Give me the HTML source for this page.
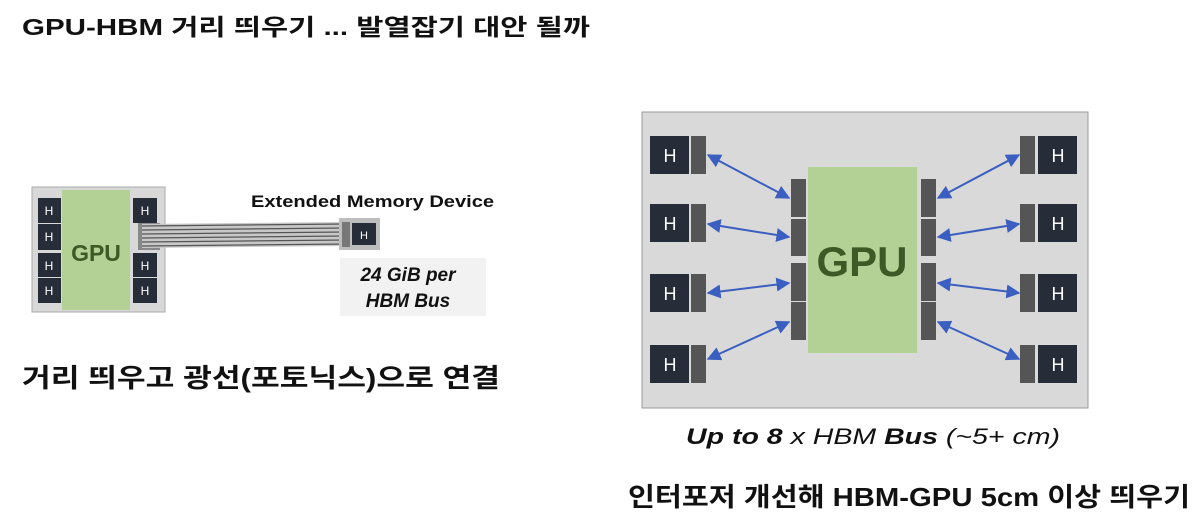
<!DOCTYPE html>
<html><head><meta charset="utf-8"><style>
html,body{margin:0;padding:0;background:#fff;width:1200px;height:530px;overflow:hidden}
text{font-family:"Liberation Sans","Noto Sans CJK KR",sans-serif}
</style></head><body>
<svg width="1200" height="530" viewBox="0 0 1200 530" xmlns="http://www.w3.org/2000/svg">
<defs>
<marker id="a" viewBox="0 0 10 10" refX="9" refY="5" markerWidth="7" markerHeight="7" orient="auto-start-reverse"><path d="M0,0L10,5L0,10z" fill="#3a5fc0"/></marker>
</defs>
<text x="22" y="35" font-size="23" font-weight="bold" fill="#111" textLength="568" lengthAdjust="spacingAndGlyphs">GPU-HBM 거리 띄우기 ... 발열잡기 대안 될까</text>

<!-- left diagram -->
<rect x="32" y="187" width="133" height="125" fill="#d8d8d8" stroke="#aaa"/>
<rect x="62" y="190" width="68" height="120" fill="#b3d095"/>
<text x="96" y="261" font-size="23" font-weight="bold" fill="#3d5a26" text-anchor="middle">GPU</text>
<g fill="#262d38">
<rect x="38" y="198" width="23" height="25"/><rect x="38" y="224" width="23" height="26"/>
<rect x="38" y="253" width="23" height="24"/><rect x="38" y="278" width="23" height="25"/>
<rect x="133" y="198" width="24" height="25"/><rect x="133" y="253" width="24" height="24"/><rect x="133" y="278" width="24" height="25"/>
</g>
<g fill="#fff" font-size="12" text-anchor="middle">
<text x="49" y="215">H</text><text x="49" y="241">H</text><text x="49" y="270">H</text><text x="49" y="295">H</text>
<text x="145" y="215">H</text><text x="145" y="270">H</text><text x="145" y="295">H</text>
</g>
<rect x="138" y="223" width="22" height="27" fill="#888"/>
<path d="M142,224 L345,222 L345,246 L142,248z" fill="#c8c8c8"/>
<g stroke="#555" stroke-width="1.2" fill="none">
<path d="M142,226 L345,224"/><path d="M142,230 L345,228"/><path d="M142,234 L345,232"/><path d="M142,238 L345,236"/><path d="M142,242 L345,240"/><path d="M142,246 L345,244"/>
</g>
<rect x="339" y="218" width="41" height="32" fill="#bdbdbd"/>
<rect x="342" y="222" width="8" height="25" fill="#777"/>
<rect x="352" y="223" width="24" height="22" fill="#262d38"/>
<text x="364" y="239" font-size="11" fill="#fff" text-anchor="middle">H</text>
<text x="251" y="207" font-size="17" font-weight="bold" fill="#111" textLength="243" lengthAdjust="spacingAndGlyphs">Extended  Memory Device</text>
<rect x="340" y="258" width="146" height="58" fill="#f2f2f2"/>
<text x="408" y="281" font-size="19" font-weight="bold" font-style="italic" fill="#111" text-anchor="middle">24 GiB per</text>
<text x="408" y="307" font-size="19" font-weight="bold" font-style="italic" fill="#111" text-anchor="middle">HBM Bus</text>
<text x="22" y="387" font-size="26" font-weight="bold" fill="#111" textLength="478" lengthAdjust="spacingAndGlyphs">거리 띄우고 광선(포토닉스)으로 연결</text>

<!-- right diagram -->
<rect x="642" y="112" width="446" height="296" fill="#d9d9d9" stroke="#999"/>
<rect x="808" y="167" width="109" height="186" fill="#b3d095"/>
<text x="862" y="276" font-size="42" font-weight="bold" fill="#3d5a26" text-anchor="middle">GPU</text>
<g fill="#555">
<rect x="791" y="179" width="15" height="38"/><rect x="791" y="219" width="15" height="37"/>
<rect x="791" y="263" width="15" height="38"/><rect x="791" y="302" width="15" height="38"/>
<rect x="921" y="179" width="15" height="38"/><rect x="921" y="219" width="15" height="37"/>
<rect x="921" y="263" width="15" height="38"/><rect x="921" y="302" width="15" height="38"/>
<rect x="691" y="136" width="15" height="38"/><rect x="691" y="204" width="15" height="38"/><rect x="691" y="274" width="15" height="38"/><rect x="691" y="345" width="15" height="38"/>
<rect x="1020" y="136" width="15" height="38"/><rect x="1020" y="204" width="15" height="38"/><rect x="1020" y="274" width="15" height="38"/><rect x="1020" y="345" width="15" height="38"/>
</g>
<g fill="#262d38">
<rect x="650" y="136" width="39" height="38"/><rect x="650" y="204" width="39" height="38"/><rect x="650" y="274" width="39" height="38"/><rect x="650" y="345" width="39" height="38"/>
<rect x="1038" y="136" width="39" height="38"/><rect x="1038" y="204" width="39" height="38"/><rect x="1038" y="274" width="39" height="38"/><rect x="1038" y="345" width="39" height="38"/>
</g>
<g fill="#fff" font-size="18" text-anchor="middle">
<text x="670" y="162">H</text><text x="670" y="230">H</text><text x="670" y="300">H</text><text x="670" y="371">H</text>
<text x="1058" y="162">H</text><text x="1058" y="230">H</text><text x="1058" y="300">H</text><text x="1058" y="371">H</text>
</g>
<g stroke="#3a5fc0" stroke-width="2" marker-start="url(#a)" marker-end="url(#a)">
<line x1="708" y1="155" x2="789" y2="198"/><line x1="708" y1="224" x2="789" y2="237"/>
<line x1="708" y1="293" x2="789" y2="283"/><line x1="708" y1="359" x2="789" y2="322"/>
<line x1="938" y1="198" x2="1019" y2="155"/><line x1="938" y1="237" x2="1019" y2="224"/>
<line x1="938" y1="283" x2="1019" y2="293"/><line x1="938" y1="322" x2="1019" y2="359"/>
</g>
<text x="686" y="444" font-size="22" font-style="italic" fill="#111" textLength="374" lengthAdjust="spacingAndGlyphs"><tspan font-weight="bold">Up to 8</tspan> x HBM <tspan font-weight="bold">Bus</tspan> (~5+ cm)</text>
<text x="628" y="506" font-size="26" font-weight="bold" fill="#111" textLength="562" lengthAdjust="spacingAndGlyphs">인터포저 개선해 HBM-GPU 5cm 이상 띄우기</text>
</svg>
</body></html>
